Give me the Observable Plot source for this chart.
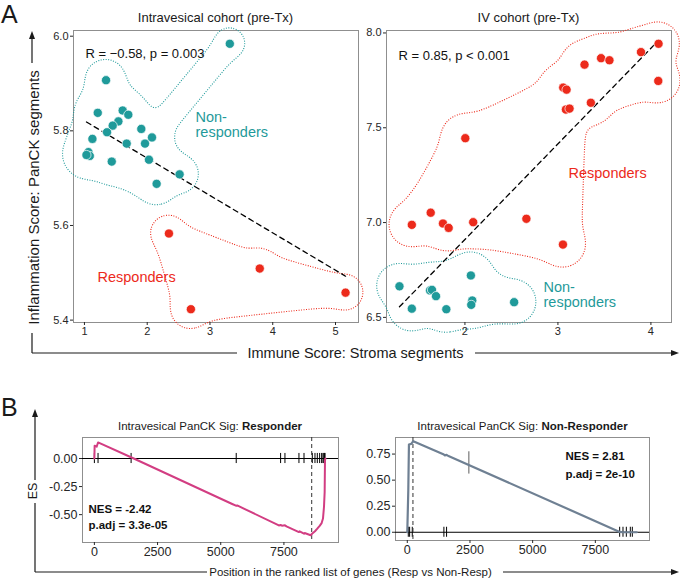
<!DOCTYPE html>
<html><head><meta charset="utf-8">
<script src="https://cdn.jsdelivr.net/npm/d3@7"></script>
<script src="https://cdn.jsdelivr.net/npm/@observablehq/plot@0.6"></script>
<style>
body{margin:0;background:#fff;}
#wrap{position:relative;width:680px;height:579px;overflow:hidden;background:#fff;font-family:'Liberation Sans',Arial,Helvetica,sans-serif;}
</style></head><body><div id="wrap"></div>
<script>
// ---------- DATA ----------
// Panel A, intravesical cohort (pre-Tx)
const ivesNonX = [3.316,1.344,1.212,1.609,1.699,1.541,1.450,1.360,1.906,1.127,2.076,1.673,1.965,1.064,1.085,1.032,1.435,2.028,2.516,2.150];
const ivesNonY = [5.984,5.907,5.838,5.843,5.834,5.820,5.811,5.797,5.804,5.783,5.786,5.773,5.773,5.755,5.747,5.749,5.735,5.739,5.708,5.688];
const ivesRespX = [2.346,3.793,5.160,2.696];
const ivesRespY = [5.583,5.509,5.458,5.423];
// Panel A, IV cohort (pre-Tx)
const ivRespX = [4.082,3.893,4.079,3.464,3.554,3.286,3.057,3.093,3.354,3.086,3.125,2.004,1.632,1.429,1.764,1.825,2.089,2.661,3.054];
const ivRespY = [7.943,7.899,7.747,7.867,7.856,7.833,7.712,7.701,7.632,7.596,7.601,7.445,7.052,6.988,6.995,6.972,7.002,7.020,6.884];
const ivNonX = [1.296,2.064,1.625,1.646,1.689,1.429,1.800,2.079,2.068,2.529];
const ivNonY = [6.664,6.721,6.642,6.645,6.612,6.546,6.543,6.589,6.566,6.580];
const ivesXTicks = [1,2,3,4,5], ivesYTicks = [5.4,5.6,5.8,6.0];
const ivXTicks = [2,3,4], ivYTicks = [6.5,7.0,7.5,8.0];
// Panel B, GSEA running enrichment scores
const respRank = [0,10,90,145,1558,5454,5600,5650,7300,7369,7420,7541,7600,8095,8120,8295,8320,8558,8624,8729,8821,8914,8993,9046,9086,9112,9125,9140];
const respES   = [0,0.114,0.105,0.143,0,-0.405,-0.420,-0.418,-0.596,-0.592,-0.598,-0.594,-0.604,-0.655,-0.648,-0.670,-0.664,-0.683,-0.668,-0.648,-0.625,-0.600,-0.575,-0.535,-0.43,-0.30,-0.02,0];
const respHits = [0,145,1453,5613,7369,7541,8095,8295,8624,8729,8821,8914,8993,9046,9080,9112,9125];
const respPeak = 8600;
const nonRank = [0,40,66,159,239,1460,1500,1567,1620,8470,8600,8975,9150];
const nonES   = [0,0.40,0.842,0.848,0.874,0.745,0.738,0.742,0.735,0.003,0,0,0];
const nonHits = [40,93,199,1460,1567,8470,8603,8736,8895,8975];
const nonPeak = 226;
const nonMarkRank = [2456], nonMarkLo = [0.558], nonMarkHi = [0.772];
const gseaXTicks = [0,2500,5000,7500];
const respYTicks = [0,-0.25,-0.5], nonYTicks = [0,0.25,0.5,0.75];

// ---------- STYLE ----------
const FONT = "'Liberation Sans', Arial, Helvetica, sans-serif";
const TEAL = "#1f9a9a", RED = "#ec2a1b", PINK = "#d23d82", SLATE = "#6f8093", FRAME = "#8f8f8f";
const wrap = document.getElementById("wrap");
function place(el, left, top) { el.style.position = "absolute"; el.style.left = left + "px"; el.style.top = top + "px"; wrap.appendChild(el); }
const baseStyle = (fs) => ({background: "transparent", overflow: "visible", fontFamily: FONT, fontSize: fs + "px", color: "#262626"});
const expand = (arr) => { const [a, b] = d3.extent(arr); const p = 0.05 * (b - a); return [a - p, b + p]; };
const rows = (xs, ys) => xs.map((x, i) => ({x, y: ys[i]}));

// concave hull outline (expanded, smoothed) drawn through the plot's scales
function hullMark(xs, ys, color, maxEdge, radius) {
  return function (index, scales) {
    const sx = scales.x, sy = scales.y;
    const pts = xs.map((x, i) => [sx(x), sy(ys[i])]);
    const n = pts.length;
    const dist = (a, b) => Math.hypot(a[0] - b[0], a[1] - b[1]);
    const segs = [], tris = [];
    if (n >= 3) {
      const T = d3.Delaunay.from(pts).triangles;
      for (let i = 0; i < T.length; i += 3) {
        const a = pts[T[i]], b = pts[T[i + 1]], c = pts[T[i + 2]];
        if (Math.max(dist(a, b), dist(b, c), dist(c, a)) <= maxEdge) { tris.push([a, b, c]); segs.push([a, b], [b, c], [c, a]); }
      }
    }
    const inT = new Array(n).fill(false), best = new Array(n).fill(Infinity), par = new Array(n).fill(-1);
    best[0] = 0;
    for (let k = 0; k < n; k++) {
      let u = -1;
      for (let i = 0; i < n; i++) if (!inT[i] && (u < 0 || best[i] < best[u])) u = i;
      inT[u] = true;
      if (par[u] >= 0) segs.push([pts[par[u]], pts[u]]);
      for (let v = 0; v < n; v++) if (!inT[v]) { const d = dist(pts[u], pts[v]); if (d < best[v]) { best[v] = d; par[v] = u; } }
    }
    for (const p of pts) segs.push([p, p]);
    const segDist = (p, a, b) => {
      const vx = b[0] - a[0], vy = b[1] - a[1], L2 = vx * vx + vy * vy;
      let t = L2 ? ((p[0] - a[0]) * vx + (p[1] - a[1]) * vy) / L2 : 0;
      t = Math.max(0, Math.min(1, t));
      return Math.hypot(p[0] - a[0] - t * vx, p[1] - a[1] - t * vy);
    };
    const inTri = (p, [a, b, c]) => {
      const s1 = (b[0] - a[0]) * (p[1] - a[1]) - (b[1] - a[1]) * (p[0] - a[0]);
      const s2 = (c[0] - b[0]) * (p[1] - b[1]) - (c[1] - b[1]) * (p[0] - b[0]);
      const s3 = (a[0] - c[0]) * (p[1] - c[1]) - (a[1] - c[1]) * (p[0] - c[0]);
      return (s1 >= 0 && s2 >= 0 && s3 >= 0) || (s1 <= 0 && s2 <= 0 && s3 <= 0);
    };
    const step = 2, pad = radius + 14, k = 3.5;
    const x0 = d3.min(pts, p => p[0]) - pad, y0 = d3.min(pts, p => p[1]) - pad;
    const nx = Math.ceil((d3.max(pts, p => p[0]) + pad - x0) / step) + 1;
    const ny = Math.ceil((d3.max(pts, p => p[1]) + pad - y0) / step) + 1;
    const vals = new Float64Array(nx * ny);
    const ds = new Float64Array(segs.length);
    for (let j = 0; j < ny; j++) for (let i = 0; i < nx; i++) {
      const p = [x0 + i * step, y0 + j * step];
      let v;
      if (tris.some(t => inTri(p, t))) v = 0;
      else {
        let dmin = Infinity;
        for (let s = 0; s < segs.length; s++) { ds[s] = segDist(p, segs[s][0], segs[s][1]); if (ds[s] < dmin) dmin = ds[s]; }
        let sum = 0;
        for (let s = 0; s < segs.length; s++) sum += Math.exp(-(ds[s] - dmin) / k);
        v = dmin - k * Math.log(sum);
      }
      vals[j * nx + i] = -v;
    }
    const cs = d3.contours().size([nx, ny]).thresholds([-radius])(vals);
    const line = d3.line().curve(d3.curveBasisClosed);
    const g = d3.create("svg:g");
    for (const poly of cs[0].coordinates) {
      const ring = poly[0].slice(0, -1).map(([cx, cy]) => [x0 + (cx - 0.5) * step, y0 + (cy - 0.5) * step]);
      g.append("path").attr("d", line(ring)).attr("fill", "none").attr("stroke", color)
        .attr("stroke-width", 1.1).attr("stroke-dasharray", "1 1.5");
    }
    return g.node();
  };
}
const note = (txt, dx, dy, o = {}) => Plot.text([txt], {text: d => d, frameAnchor: "top-left", dx, dy, textAnchor: "start", lineAnchor: "middle", ...o});

// ---------- PANEL A, left ----------
{
  const non = rows(ivesNonX, ivesNonY), resp = rows(ivesRespX, ivesRespY), all = non.concat(resp);
  const p = Plot.plot({
    width: 330, height: 322, marginLeft: 33, marginRight: 12, marginTop: 10, marginBottom: 20,
    style: baseStyle(11),
    x: {domain: expand(all.map(d => d.x))}, y: {domain: expand(all.map(d => d.y))},
    marks: [
      Plot.frame({stroke: FRAME}),
      hullMark(ivesNonX, ivesNonY, TEAL, 80, 13),
      hullMark(ivesRespX, ivesRespY, RED, 165, 13),
      Plot.linearRegressionY(all, {x: "x", y: "y", ci: 0, stroke: "black", strokeWidth: 1.3, strokeDasharray: "5,4"}),
      Plot.dot(non, {x: "x", y: "y", r: 4.6, fill: TEAL, stroke: "white", strokeWidth: 0.7}),
      Plot.dot(resp, {x: "x", y: "y", r: 4.6, fill: RED, stroke: "white", strokeWidth: 0.7}),
      Plot.axisX(ivesXTicks, {tickSize: 3, tickPadding: 2, tickFormat: "d", label: null}),
      Plot.axisY(ivesYTicks, {tickSize: 3, tickPadding: 2, tickFormat: ".1f", label: null}),
      note("R = −0.58, p = 0.003", 12, 23, {fontSize: 13, fill: "#111"}),
      note("Non-", 122, 87, {fontSize: 14.5, fill: TEAL}),
      note("responders", 122, 102, {fontSize: 14.5, fill: TEAL}),
      note("Responders", 24, 247, {fontSize: 14.5, fill: RED})
    ]
  });
  place(p, 40, 20);
}
// ---------- PANEL A, right ----------
{
  const non = rows(ivNonX, ivNonY), resp = rows(ivRespX, ivRespY), all = resp.concat(non);
  const p = Plot.plot({
    width: 330, height: 322, marginLeft: 36, marginRight: 9, marginTop: 10, marginBottom: 20,
    style: baseStyle(11),
    x: {domain: expand(all.map(d => d.x))}, y: {domain: expand(all.map(d => d.y))},
    marks: [
      Plot.frame({stroke: FRAME}),
      hullMark(ivRespX, ivRespY, RED, 140, 15),
      hullMark(ivNonX, ivNonY, TEAL, 200, 15),
      Plot.linearRegressionY(all, {x: "x", y: "y", ci: 0, stroke: "black", strokeWidth: 1.3, strokeDasharray: "5,4"}),
      Plot.dot(resp, {x: "x", y: "y", r: 4.6, fill: RED, stroke: "white", strokeWidth: 0.7}),
      Plot.dot(non, {x: "x", y: "y", r: 4.6, fill: TEAL, stroke: "white", strokeWidth: 0.7}),
      Plot.axisX(ivXTicks, {tickSize: 3, tickPadding: 2, tickFormat: "d", label: null}),
      Plot.axisY(ivYTicks, {tickSize: 3, tickPadding: 2, tickFormat: ".1f", label: null}),
      note("R = 0.85, p < 0.001", 12, 25, {fontSize: 13, fill: "#111"}),
      note("Responders", 182, 143, {fontSize: 14.5, fill: RED}),
      note("Non-", 157, 257, {fontSize: 14.5, fill: TEAL}),
      note("responders", 157, 272, {fontSize: 14.5, fill: TEAL})
    ]
  });
  place(p, 350, 20);
}
// ---------- PANEL B ----------
const gseaX = [-470, 9660];
const fix2 = d => d.toFixed(2);
{
  const curve = rows(respRank, respES);
  const p = Plot.plot({
    width: 310, height: 140, marginLeft: 42, marginRight: 12, marginTop: 12, marginBottom: 23,
    style: baseStyle(12.5),
    x: {domain: gseaX}, y: {domain: [-0.748, 0.187]},
    marks: [
      Plot.frame({stroke: FRAME}),
      Plot.ruleY([0], {stroke: "black", strokeWidth: 1}),
      Plot.ruleX(respHits, {x: d => d, y1: -0.045, y2: 0.045, stroke: "black", strokeWidth: 1}),
      Plot.ruleX([respPeak], {x: d => d, stroke: "#333", strokeDasharray: "4,3", strokeWidth: 1}),
      Plot.line(curve, {x: "x", y: "y", stroke: PINK, strokeWidth: 2}),
      Plot.axisX(gseaXTicks, {tickSize: 3, tickPadding: 2, tickFormat: d => String(d), label: null}),
      Plot.axisY(respYTicks, {tickSize: 3, tickPadding: 2, tickFormat: fix2, label: null}),
      Plot.text(["NES = -2.42"], {text: d => d, frameAnchor: "bottom-left", dx: 6, dy: -30, textAnchor: "start", fontWeight: "bold", fontSize: 11.5, fill: "#111"}),
      Plot.text(["p.adj = 3.3e-05"], {text: d => d, frameAnchor: "bottom-left", dx: 6, dy: -14, textAnchor: "start", fontWeight: "bold", fontSize: 11.5, fill: "#111"})
    ]
  });
  place(p, 40, 425);
}
{
  const curve = rows(nonRank, nonES);
  const p = Plot.plot({
    width: 310, height: 140, marginLeft: 45, marginRight: 11, marginTop: 12, marginBottom: 25,
    style: baseStyle(12.5),
    x: {domain: gseaX}, y: {domain: [-0.079, 0.909]},
    marks: [
      Plot.frame({stroke: FRAME}),
      Plot.ruleY([0], {stroke: "black", strokeWidth: 1}),
      Plot.ruleX(nonHits, {x: d => d, y1: -0.048, y2: 0.048, stroke: "black", strokeWidth: 1}),
      Plot.ruleX([nonPeak], {x: d => d, stroke: "#333", strokeDasharray: "4,3", strokeWidth: 1}),
      Plot.ruleX(nonMarkRank, {x: d => d, y1: (d, i) => nonMarkLo[i], y2: (d, i) => nonMarkHi[i], stroke: "#333", strokeWidth: 0.8}),
      Plot.line(curve, {x: "x", y: "y", stroke: SLATE, strokeWidth: 2.2}),
      Plot.axisX(gseaXTicks, {tickSize: 3, tickPadding: 2, tickFormat: d => String(d), label: null}),
      Plot.axisY(nonYTicks, {tickSize: 3, tickPadding: 2, tickFormat: fix2, label: null}),
      Plot.text(["NES = 2.81"], {text: d => d, frameAnchor: "top-left", dx: 170, dy: 14, textAnchor: "start", fontWeight: "bold", fontSize: 11.5, fill: "#111"}),
      Plot.text(["p.adj = 2e-10"], {text: d => d, frameAnchor: "top-left", dx: 170, dy: 32, textAnchor: "start", fontWeight: "bold", fontSize: 11.5, fill: "#111"})
    ]
  });
  place(p, 350, 425);
}
// ---------- OVERLAY: panel letters, titles, arrows, axis labels ----------
{
  const ov = d3.create("svg").attr("width", 680).attr("height", 579)
    .style("position", "absolute").style("left", "0px").style("top", "0px")
    .style("pointer-events", "none").style("font-family", FONT);
  const ink = "#1a1a1a";
  const seg = (x1, y1, x2, y2) => ov.append("line").attr("x1", x1).attr("y1", y1).attr("x2", x2).attr("y2", y2).attr("stroke", ink).attr("stroke-width", 1.2);
  const up = (x, y) => ov.append("path").attr("d", `M${x},${y}L${x - 3},${y + 8}L${x + 3},${y + 8}Z`).attr("fill", ink);
  const right = (x, y) => ov.append("path").attr("d", `M${x},${y}L${x - 8},${y - 3}L${x - 8},${y + 3}Z`).attr("fill", ink);
  const txt = (x, y, s, size, o = {}) => {
    const t = ov.append("text").attr("x", x).attr("y", y).attr("font-size", size).attr("fill", o.fill || ink)
      .attr("text-anchor", o.anchor || "middle").attr("dominant-baseline", o.baseline || "auto").text(s);
    if (o.rotate) t.attr("transform", `rotate(${o.rotate},${x},${y})`);
    if (o.weight) t.attr("font-weight", o.weight);
    return t;
  };
  txt(1, 23, "A", 25, {anchor: "start"});
  txt(1, 416, "B", 25, {anchor: "start"});
  txt(215.5, 22, "Intravesical cohort (pre-Tx)", 13);
  txt(528.5, 22, "IV cohort (pre-Tx)", 13);
  // panel A axis arrows
  seg(32, 353, 32, 333); seg(32, 63, 32, 38); up(32, 31);
  txt(33, 197.5, "Inflammation Score: PanCK segments", 15, {rotate: -90, baseline: "central"});
  seg(32, 353, 237, 353); seg(475, 353, 672, 353); right(679, 353);
  txt(355.5, 353, "Immune Score: Stroma segments", 14.5, {baseline: "central"});
  // panel B titles
  const t1 = txt(210, 430, "Intravesical PanCK Sig: ", 11.5);
  t1.append("tspan").attr("font-weight", "bold").text("Responder");
  const t2 = txt(522.5, 430, "Intravesical PanCK Sig: ", 11.5);
  t2.append("tspan").attr("font-weight", "bold").text("Non-Responder");
  // panel B axis arrows
  seg(35, 572, 35, 503); seg(35, 480, 35, 416); up(35, 409);
  txt(33, 491, "ES", 12.5, {rotate: -90, baseline: "central"});
  seg(35, 572, 207, 572); seg(503, 572, 672, 572); right(679, 572);
  txt(350.5, 572, "Position in the ranked list of genes (Resp vs Non-Resp)", 11.5, {baseline: "central"});
  wrap.appendChild(ov.node());
}
</script></body></html>
